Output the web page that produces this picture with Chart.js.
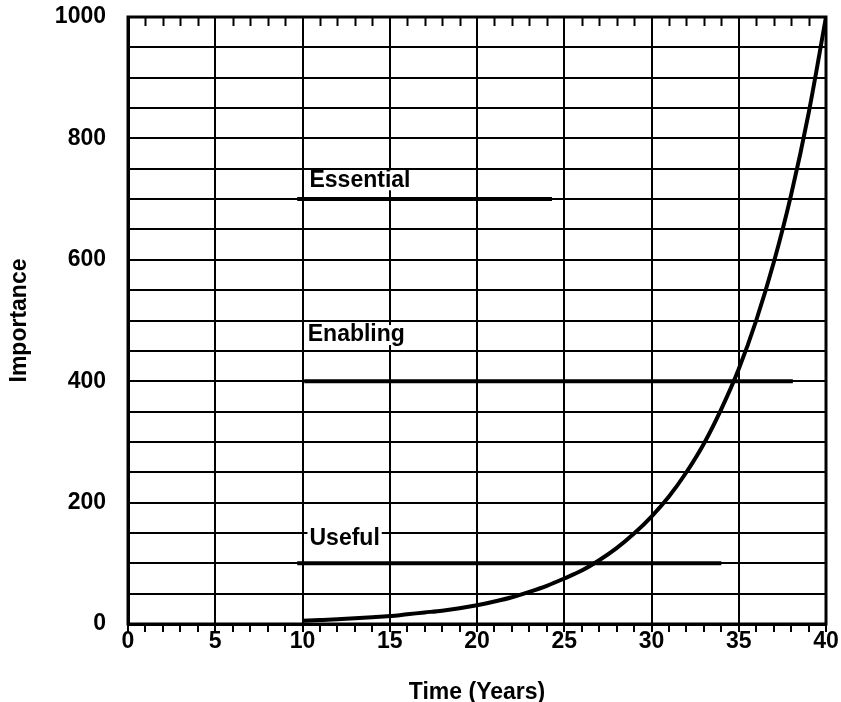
<!DOCTYPE html>
<html>
<head>
<meta charset="utf-8">
<script src="https://cdn.jsdelivr.net/npm/chart.js@4/dist/chart.umd.min.js"></script>
<style>
  html, body { margin: 0; padding: 0; background: #fff; }
  #wrap { width: 841px; height: 702px; }
</style>
</head>
<body>
<div id="wrap"><canvas id="grafico"></canvas></div>
<script>
// curve (years 10..40)
const years = [10, 11, 12, 13, 14, 15, 16, 17, 18, 19, 20, 21, 22, 23, 24, 25, 26, 27, 28, 29, 30, 31, 32, 33, 34, 35, 36, 37, 38, 39, 40]
const importance = [5.5, 6.6, 7.8, 9.3, 11, 13, 16, 19, 22, 26, 31, 37, 44, 53, 63, 75, 88, 105, 125, 149, 177, 210, 250, 297, 354, 420, 500, 595, 707, 841, 1000]

// threshold levels
const levelNames = ['Useful', 'Enabling', 'Essential']
const levelValues = [100, 400, 700]
const levelStart = [9.7, 10.1, 9.7]
const levelEnd = [34.0, 38.1, 24.3]
const labelX = [10.4, 10.3, 10.4]
const labelY = [140, 476, 731]

const xTicks = [0, 5, 10, 15, 20, 25, 30, 35, 40]
const yTicks = [0, 200, 400, 600, 800, 1000]

const fonte = { family: "'Liberation Sans', Arial, sans-serif", size: 23, weight: 'bold' }

const curvePoints = years.map((ano, i) => ({ x: ano, y: importance[i] }))

const levelDatasets = levelValues.map((nivel, i) => ({
  label: levelNames[i],
  data: [{ x: levelStart[i], y: nivel }, { x: levelEnd[i], y: nivel }],
  showLine: true,
  borderColor: '#000',
  borderWidth: 4,
  pointRadius: 0
}))

// top border ticks (inward), frame and level labels
const moldura = {
  id: 'moldura',
  afterDatasetsDraw(chart) {
    const { ctx, chartArea, scales } = chart
    ctx.save()
    ctx.strokeStyle = '#000'
    ctx.lineWidth = 2
    for (let v = 0; v <= 40; v++) {
      if (v % 5 === 0) continue
      const px = Math.round(scales.x.getPixelForValue(v)) + 0.5
      ctx.beginPath()
      ctx.moveTo(px, chartArea.top)
      ctx.lineTo(px, chartArea.top + 9)
      ctx.stroke()
    }
    ctx.lineWidth = 3
    ctx.strokeRect(chartArea.left, chartArea.top, chartArea.right - chartArea.left, chartArea.bottom - chartArea.top)

    ctx.font = `${fonte.weight} ${fonte.size}px ${fonte.family}`
    ctx.textBaseline = 'middle'
    ctx.textAlign = 'left'
    levelNames.forEach((nome, i) => {
      const px = scales.x.getPixelForValue(labelX[i])
      const py = scales.y.getPixelForValue(labelY[i])
      const w = ctx.measureText(nome).width
      ctx.fillStyle = '#fff'
      ctx.fillRect(px - 2, py - 10, w + 4, 20)
      ctx.fillStyle = '#000'
      ctx.fillText(nome, px, py)
    })
    ctx.restore()
  }
}

new Chart(document.getElementById('grafico'), {
  type: 'scatter',
  data: {
    datasets: [{
      label: 'Importance',
      data: curvePoints,
      showLine: true,
      borderColor: '#000',
      borderWidth: 4,
      pointRadius: 0,
      cubicInterpolationMode: 'monotone'
    }, ...levelDatasets]
  },
  options: {
    responsive: true,
    maintainAspectRatio: false,
    animation: false,
    layout: { padding: { top: 17, right: 15, left: 0, bottom: 0 } },
    plugins: {
      legend: { display: false },
      tooltip: { enabled: false }
    },
    scales: {
      x: {
        type: 'linear',
        min: 0,
        max: 40,
        afterFit: (scale) => { scale.height = 78 },
        afterBuildTicks: (scale) => {
          scale.ticks = []
          for (let v = 0; v <= 40; v++) scale.ticks.push({ value: v })
        },
        ticks: {
          color: '#000',
          font: fonte,
          autoSkip: false,
          maxRotation: 0,
          padding: -4,
          callback: (v) => xTicks.includes(v) ? String(v) : ''
        },
        grid: {
          color: (c) => (c.tick && c.tick.value % 5 === 0) ? '#000' : 'transparent',
          lineWidth: 2,
          tickColor: '#000',
          tickWidth: 2,
          tickLength: 8
        },
        border: { color: '#000', width: 3 },
        title: { display: true, text: 'Time (Years)', color: '#000', font: fonte, padding: { top: 4, bottom: -4 } }
      },
      y: {
        min: 0,
        max: 1000,
        afterFit: (scale) => {
          scale.width = 128
          scale.paddingTop = 0
          scale.paddingBottom = 0
        },
        ticks: {
          stepSize: 50,
          color: '#000',
          font: fonte,
          padding: 22,
          autoSkip: false,
          callback: (v) => yTicks.includes(v) ? String(v) : ''
        },
        grid: { color: '#000', lineWidth: 2, drawTicks: false },
        border: { color: '#000', width: 3 },
        title: { display: true, text: 'Importance', color: '#000', font: fonte, padding: { top: 6, bottom: 0 } }
      }
    }
  },
  plugins: [moldura]
})
</script>
</body>
</html>
